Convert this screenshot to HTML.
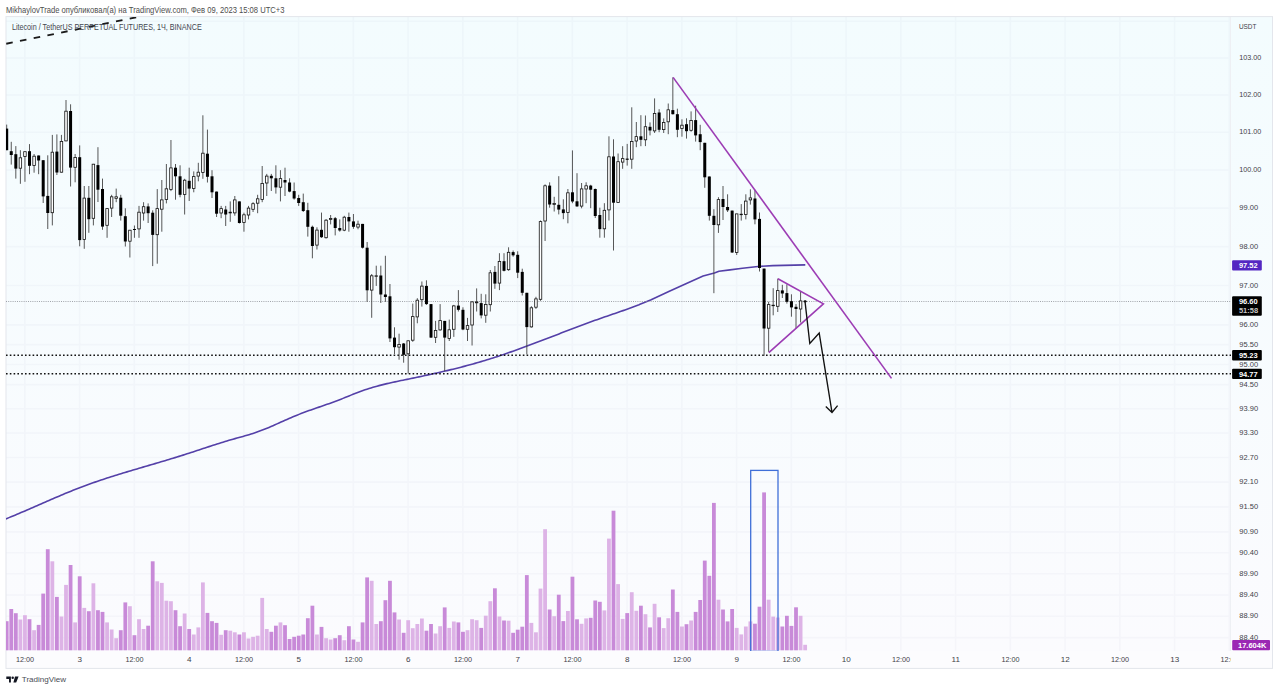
<!DOCTYPE html><html><head><meta charset="utf-8"><style>
html,body{margin:0;padding:0;background:#fff;width:1280px;height:691px;overflow:hidden}
svg{display:block}
text{font-family:"Liberation Sans", sans-serif}
</style></head><body>
<svg width="1280" height="691" viewBox="0 0 1280 691">
<defs>
<linearGradient id="bg" x1="0" y1="0" x2="0" y2="1">
<stop offset="0" stop-color="#f3fcfe"/><stop offset="1" stop-color="#fbfbfe"/>
</linearGradient>
<clipPath id="pane"><rect x="6" y="17" width="1225" height="634"/></clipPath>
</defs>
<rect x="0" y="0" width="1280" height="691" fill="#fff"/>

<text x="6" y="12.6" font-size="8.8" textLength="278.5" lengthAdjust="spacingAndGlyphs" fill="#4d4d4d">MikhaylovTrade опубликовал(а) на TradingView.com, Фев 09, 2023 15:08 UTC+3</text>
<rect x="6" y="17" width="1267" height="634" fill="url(#bg)"/>
<rect x="6" y="651" width="1267" height="17.399999999999977" fill="#fcfcfe"/>
<path d="M6 21.3H1231 M6 57.94H1231 M6 94.94H1231 M6 132.3H1231 M6 170.04H1231 M6 208.15H1231 M6 246.66H1231 M6 285.55H1231 M6 324.85H1231 M6 344.66H1231 M6 364.56H1231 M6 384.58H1231 M6 408.73H1231 M6 433.04H1231 M6 457.51H1231 M6 482.14H1231 M6 506.92H1231 M6 531.87H1231 M6 552.79H1231 M6 573.82H1231 M6 594.98H1231 M6 616.25H1231 M6 637.63H1231 M24.85 17V651 M79.6 17V651 M134.35 17V651 M189.1 17V651 M243.85 17V651 M298.6 17V651 M353.35 17V651 M408.1 17V651 M462.85 17V651 M517.6 17V651 M572.35 17V651 M627.1 17V651 M681.85 17V651 M736.6 17V651 M791.35 17V651 M846.1 17V651 M900.85 17V651 M955.6 17V651 M1010.35 17V651 M1065.1 17V651 M1119.85 17V651 M1174.6 17V651 M1229.35 17V651" stroke="rgba(110,120,160,0.042)" stroke-width="1.6" fill="none"/>
<path d="M1230.5 17V651" stroke="#eef0f4" stroke-width="1"/>
<rect x="6" y="16.6" width="1266.5" height="651.8" fill="none" stroke="#e3e6ec" stroke-width="1"/>
<g clip-path="url(#pane)">
<rect x="4.80" y="621.2" width="3.8" height="29.1" fill="#c88ad8"/><rect x="9.36" y="609.0" width="3.8" height="41.3" fill="#c88ad8"/><rect x="13.92" y="613.2" width="3.8" height="37.1" fill="#c88ad8"/><rect x="18.49" y="619.5" width="3.8" height="30.8" fill="#ddb3e6"/><rect x="23.05" y="615.2" width="3.8" height="35.1" fill="#ddb3e6"/><rect x="27.61" y="619.2" width="3.8" height="31.1" fill="#c88ad8"/><rect x="32.18" y="630.2" width="3.8" height="20.1" fill="#ddb3e6"/><rect x="36.74" y="624.9" width="3.8" height="25.4" fill="#c88ad8"/><rect x="41.30" y="593.6" width="3.8" height="56.7" fill="#c88ad8"/><rect x="45.86" y="549.2" width="3.8" height="101.1" fill="#c88ad8"/><rect x="50.43" y="561.3" width="3.8" height="89.0" fill="#ddb3e6"/><rect x="54.99" y="596.9" width="3.8" height="53.4" fill="#c88ad8"/><rect x="59.55" y="616.5" width="3.8" height="33.8" fill="#ddb3e6"/><rect x="64.11" y="584.9" width="3.8" height="65.4" fill="#ddb3e6"/><rect x="68.67" y="565.0" width="3.8" height="85.3" fill="#c88ad8"/><rect x="73.24" y="622.4" width="3.8" height="27.9" fill="#ddb3e6"/><rect x="77.80" y="576.3" width="3.8" height="74.0" fill="#c88ad8"/><rect x="82.36" y="607.9" width="3.8" height="42.4" fill="#ddb3e6"/><rect x="86.92" y="611.2" width="3.8" height="39.1" fill="#c88ad8"/><rect x="91.49" y="583.3" width="3.8" height="67.0" fill="#ddb3e6"/><rect x="96.05" y="610.2" width="3.8" height="40.1" fill="#c88ad8"/><rect x="100.61" y="611.9" width="3.8" height="38.4" fill="#c88ad8"/><rect x="105.17" y="622.4" width="3.8" height="27.9" fill="#ddb3e6"/><rect x="109.74" y="629.5" width="3.8" height="20.8" fill="#ddb3e6"/><rect x="114.30" y="638.2" width="3.8" height="12.1" fill="#ddb3e6"/><rect x="118.86" y="630.2" width="3.8" height="20.1" fill="#c88ad8"/><rect x="123.42" y="602.4" width="3.8" height="47.9" fill="#c88ad8"/><rect x="127.99" y="606.2" width="3.8" height="44.1" fill="#ddb3e6"/><rect x="132.55" y="635.2" width="3.8" height="15.1" fill="#c88ad8"/><rect x="137.11" y="619.2" width="3.8" height="31.1" fill="#ddb3e6"/><rect x="141.67" y="629.0" width="3.8" height="21.3" fill="#ddb3e6"/><rect x="146.24" y="625.7" width="3.8" height="24.6" fill="#c88ad8"/><rect x="150.80" y="561.3" width="3.8" height="89.0" fill="#c88ad8"/><rect x="155.36" y="581.3" width="3.8" height="69.0" fill="#ddb3e6"/><rect x="159.92" y="582.9" width="3.8" height="67.4" fill="#ddb3e6"/><rect x="164.49" y="600.7" width="3.8" height="49.6" fill="#ddb3e6"/><rect x="169.05" y="601.2" width="3.8" height="49.1" fill="#ddb3e6"/><rect x="173.61" y="610.2" width="3.8" height="40.1" fill="#c88ad8"/><rect x="178.17" y="626.2" width="3.8" height="24.1" fill="#c88ad8"/><rect x="182.74" y="613.5" width="3.8" height="36.8" fill="#ddb3e6"/><rect x="187.30" y="629.0" width="3.8" height="21.3" fill="#c88ad8"/><rect x="191.86" y="634.5" width="3.8" height="15.8" fill="#ddb3e6"/><rect x="196.42" y="627.4" width="3.8" height="22.9" fill="#ddb3e6"/><rect x="200.99" y="582.4" width="3.8" height="67.9" fill="#ddb3e6"/><rect x="205.55" y="612.9" width="3.8" height="37.4" fill="#c88ad8"/><rect x="210.11" y="621.2" width="3.8" height="29.1" fill="#c88ad8"/><rect x="214.67" y="622.9" width="3.8" height="27.4" fill="#c88ad8"/><rect x="219.24" y="634.8" width="3.8" height="15.5" fill="#ddb3e6"/><rect x="223.80" y="630.2" width="3.8" height="20.1" fill="#c88ad8"/><rect x="228.36" y="630.7" width="3.8" height="19.6" fill="#ddb3e6"/><rect x="232.92" y="632.3" width="3.8" height="18.0" fill="#ddb3e6"/><rect x="237.49" y="634.5" width="3.8" height="15.8" fill="#c88ad8"/><rect x="242.05" y="632.3" width="3.8" height="18.0" fill="#ddb3e6"/><rect x="246.61" y="638.5" width="3.8" height="11.8" fill="#ddb3e6"/><rect x="251.17" y="636.8" width="3.8" height="13.5" fill="#ddb3e6"/><rect x="255.74" y="635.7" width="3.8" height="14.6" fill="#ddb3e6"/><rect x="260.30" y="597.9" width="3.8" height="52.4" fill="#ddb3e6"/><rect x="264.86" y="629.0" width="3.8" height="21.3" fill="#ddb3e6"/><rect x="269.43" y="631.8" width="3.8" height="18.5" fill="#c88ad8"/><rect x="273.99" y="625.7" width="3.8" height="24.6" fill="#c88ad8"/><rect x="278.55" y="622.4" width="3.8" height="27.9" fill="#ddb3e6"/><rect x="283.11" y="625.2" width="3.8" height="25.1" fill="#c88ad8"/><rect x="287.68" y="639.0" width="3.8" height="11.3" fill="#c88ad8"/><rect x="292.24" y="636.8" width="3.8" height="13.5" fill="#c88ad8"/><rect x="296.80" y="635.7" width="3.8" height="14.6" fill="#c88ad8"/><rect x="301.36" y="634.5" width="3.8" height="15.8" fill="#c88ad8"/><rect x="305.93" y="618.2" width="3.8" height="32.1" fill="#c88ad8"/><rect x="310.49" y="605.7" width="3.8" height="44.6" fill="#c88ad8"/><rect x="315.05" y="634.5" width="3.8" height="15.8" fill="#ddb3e6"/><rect x="319.61" y="626.9" width="3.8" height="23.4" fill="#c88ad8"/><rect x="324.18" y="638.2" width="3.8" height="12.1" fill="#ddb3e6"/><rect x="328.74" y="639.5" width="3.8" height="10.8" fill="#ddb3e6"/><rect x="333.30" y="638.2" width="3.8" height="12.1" fill="#c88ad8"/><rect x="337.86" y="635.2" width="3.8" height="15.1" fill="#c88ad8"/><rect x="342.43" y="640.2" width="3.8" height="10.1" fill="#ddb3e6"/><rect x="346.99" y="626.2" width="3.8" height="24.1" fill="#c88ad8"/><rect x="351.55" y="639.5" width="3.8" height="10.8" fill="#c88ad8"/><rect x="356.11" y="641.8" width="3.8" height="8.5" fill="#ddb3e6"/><rect x="360.68" y="622.4" width="3.8" height="27.9" fill="#c88ad8"/><rect x="365.24" y="577.4" width="3.8" height="72.9" fill="#c88ad8"/><rect x="369.80" y="580.8" width="3.8" height="69.5" fill="#ddb3e6"/><rect x="374.36" y="624.0" width="3.8" height="26.3" fill="#ddb3e6"/><rect x="378.93" y="621.2" width="3.8" height="29.1" fill="#c88ad8"/><rect x="383.49" y="600.2" width="3.8" height="50.1" fill="#c88ad8"/><rect x="388.05" y="580.8" width="3.8" height="69.5" fill="#c88ad8"/><rect x="392.61" y="612.4" width="3.8" height="37.9" fill="#c88ad8"/><rect x="397.18" y="619.5" width="3.8" height="30.8" fill="#ddb3e6"/><rect x="401.74" y="632.8" width="3.8" height="17.5" fill="#c88ad8"/><rect x="406.30" y="620.2" width="3.8" height="30.1" fill="#ddb3e6"/><rect x="410.86" y="628.2" width="3.8" height="22.1" fill="#ddb3e6"/><rect x="415.43" y="624.0" width="3.8" height="26.3" fill="#ddb3e6"/><rect x="419.99" y="618.5" width="3.8" height="31.8" fill="#ddb3e6"/><rect x="424.55" y="630.7" width="3.8" height="19.6" fill="#c88ad8"/><rect x="429.11" y="624.0" width="3.8" height="26.3" fill="#c88ad8"/><rect x="433.68" y="633.5" width="3.8" height="16.8" fill="#ddb3e6"/><rect x="438.24" y="626.2" width="3.8" height="24.1" fill="#ddb3e6"/><rect x="442.80" y="607.4" width="3.8" height="42.9" fill="#c88ad8"/><rect x="447.36" y="627.9" width="3.8" height="22.4" fill="#ddb3e6"/><rect x="451.93" y="621.5" width="3.8" height="28.8" fill="#ddb3e6"/><rect x="456.49" y="622.4" width="3.8" height="27.9" fill="#c88ad8"/><rect x="461.05" y="631.8" width="3.8" height="18.5" fill="#c88ad8"/><rect x="465.61" y="630.2" width="3.8" height="20.1" fill="#ddb3e6"/><rect x="470.18" y="619.2" width="3.8" height="31.1" fill="#ddb3e6"/><rect x="474.74" y="620.2" width="3.8" height="30.1" fill="#ddb3e6"/><rect x="479.30" y="627.9" width="3.8" height="22.4" fill="#c88ad8"/><rect x="483.86" y="615.7" width="3.8" height="34.6" fill="#ddb3e6"/><rect x="488.43" y="601.2" width="3.8" height="49.1" fill="#ddb3e6"/><rect x="492.99" y="588.3" width="3.8" height="62.0" fill="#c88ad8"/><rect x="497.55" y="616.5" width="3.8" height="33.8" fill="#ddb3e6"/><rect x="502.11" y="620.5" width="3.8" height="29.8" fill="#c88ad8"/><rect x="506.68" y="620.7" width="3.8" height="29.6" fill="#ddb3e6"/><rect x="511.24" y="632.8" width="3.8" height="17.5" fill="#c88ad8"/><rect x="515.80" y="629.7" width="3.8" height="20.6" fill="#c88ad8"/><rect x="520.36" y="626.7" width="3.8" height="23.6" fill="#c88ad8"/><rect x="524.93" y="575.1" width="3.8" height="75.2" fill="#c88ad8"/><rect x="529.49" y="622.9" width="3.8" height="27.4" fill="#ddb3e6"/><rect x="534.05" y="632.3" width="3.8" height="18.0" fill="#ddb3e6"/><rect x="538.61" y="588.6" width="3.8" height="61.7" fill="#ddb3e6"/><rect x="543.18" y="529.2" width="3.8" height="121.1" fill="#ddb3e6"/><rect x="547.74" y="609.5" width="3.8" height="40.8" fill="#c88ad8"/><rect x="552.30" y="616.2" width="3.8" height="34.1" fill="#ddb3e6"/><rect x="556.86" y="594.7" width="3.8" height="55.6" fill="#c88ad8"/><rect x="561.43" y="621.1" width="3.8" height="29.2" fill="#c88ad8"/><rect x="565.99" y="611.0" width="3.8" height="39.3" fill="#ddb3e6"/><rect x="570.55" y="576.7" width="3.8" height="73.6" fill="#c88ad8"/><rect x="575.11" y="619.3" width="3.8" height="31.0" fill="#c88ad8"/><rect x="579.68" y="623.8" width="3.8" height="26.5" fill="#ddb3e6"/><rect x="584.24" y="618.4" width="3.8" height="31.9" fill="#ddb3e6"/><rect x="588.80" y="617.8" width="3.8" height="32.5" fill="#c88ad8"/><rect x="593.36" y="600.5" width="3.8" height="49.8" fill="#c88ad8"/><rect x="597.93" y="601.8" width="3.8" height="48.5" fill="#c88ad8"/><rect x="602.49" y="610.4" width="3.8" height="39.9" fill="#ddb3e6"/><rect x="607.05" y="538.6" width="3.8" height="111.7" fill="#ddb3e6"/><rect x="611.61" y="510.7" width="3.8" height="139.6" fill="#c88ad8"/><rect x="616.18" y="584.1" width="3.8" height="66.2" fill="#ddb3e6"/><rect x="620.74" y="618.9" width="3.8" height="31.4" fill="#ddb3e6"/><rect x="625.30" y="613.1" width="3.8" height="37.2" fill="#c88ad8"/><rect x="629.86" y="592.2" width="3.8" height="58.1" fill="#ddb3e6"/><rect x="634.43" y="610.8" width="3.8" height="39.5" fill="#ddb3e6"/><rect x="638.99" y="605.7" width="3.8" height="44.6" fill="#c88ad8"/><rect x="643.55" y="614.2" width="3.8" height="36.1" fill="#ddb3e6"/><rect x="648.11" y="627.4" width="3.8" height="22.9" fill="#c88ad8"/><rect x="652.68" y="603.8" width="3.8" height="46.5" fill="#ddb3e6"/><rect x="657.24" y="617.3" width="3.8" height="33.0" fill="#c88ad8"/><rect x="661.80" y="628.1" width="3.8" height="22.2" fill="#ddb3e6"/><rect x="666.36" y="618.2" width="3.8" height="32.1" fill="#ddb3e6"/><rect x="670.93" y="589.5" width="3.8" height="60.8" fill="#c88ad8"/><rect x="675.49" y="611.9" width="3.8" height="38.4" fill="#c88ad8"/><rect x="680.05" y="626.5" width="3.8" height="23.8" fill="#ddb3e6"/><rect x="684.61" y="624.2" width="3.8" height="26.1" fill="#c88ad8"/><rect x="689.18" y="620.5" width="3.8" height="29.8" fill="#ddb3e6"/><rect x="693.74" y="611.9" width="3.8" height="38.4" fill="#c88ad8"/><rect x="698.30" y="600.0" width="3.8" height="50.3" fill="#c88ad8"/><rect x="702.86" y="560.6" width="3.8" height="89.7" fill="#c88ad8"/><rect x="707.43" y="575.8" width="3.8" height="74.5" fill="#c88ad8"/><rect x="711.99" y="502.9" width="3.8" height="147.4" fill="#c88ad8"/><rect x="716.55" y="599.7" width="3.8" height="50.6" fill="#ddb3e6"/><rect x="721.11" y="609.5" width="3.8" height="40.8" fill="#c88ad8"/><rect x="725.68" y="621.4" width="3.8" height="28.9" fill="#c88ad8"/><rect x="730.24" y="609.0" width="3.8" height="41.3" fill="#c88ad8"/><rect x="734.80" y="627.9" width="3.8" height="22.4" fill="#ddb3e6"/><rect x="739.36" y="634.4" width="3.8" height="15.9" fill="#ddb3e6"/><rect x="743.93" y="626.5" width="3.8" height="23.8" fill="#ddb3e6"/><rect x="748.49" y="621.4" width="3.8" height="28.9" fill="#ddb3e6"/><rect x="753.05" y="623.7" width="3.8" height="26.6" fill="#c88ad8"/><rect x="757.61" y="606.7" width="3.8" height="43.6" fill="#c88ad8"/><rect x="762.18" y="492.4" width="3.8" height="157.9" fill="#c88ad8"/><rect x="766.74" y="599.7" width="3.8" height="50.6" fill="#ddb3e6"/><rect x="771.30" y="616.6" width="3.8" height="33.7" fill="#ddb3e6"/><rect x="775.86" y="617.5" width="3.8" height="32.8" fill="#ddb3e6"/><rect x="780.43" y="626.5" width="3.8" height="23.8" fill="#c88ad8"/><rect x="784.99" y="615.8" width="3.8" height="34.5" fill="#c88ad8"/><rect x="789.55" y="625.9" width="3.8" height="24.4" fill="#c88ad8"/><rect x="794.11" y="607.3" width="3.8" height="43.0" fill="#c88ad8"/><rect x="798.68" y="615.8" width="3.8" height="34.5" fill="#ddb3e6"/><rect x="803.24" y="644.8" width="3.8" height="5.5" fill="#ddb3e6"/>
<rect x="750.7" y="470.4" width="27.3" height="181" fill="none" stroke="#3f6fd8" stroke-width="1.3"/>
<path d="M5.0 519.23 L7.0 518.43 L9.0 517.62 L11.0 516.80 L13.0 515.98 L15.0 515.15 L17.0 514.31 L19.0 513.46 L21.0 512.61 L23.0 511.76 L25.0 510.90 L27.0 510.04 L29.0 509.17 L31.0 508.30 L33.0 507.43 L35.0 506.56 L37.0 505.68 L39.0 504.81 L41.0 503.93 L43.0 503.06 L45.0 502.18 L47.0 501.31 L49.0 500.44 L51.0 499.57 L53.0 498.71 L55.0 497.85 L57.0 496.99 L59.0 496.14 L61.0 495.29 L63.0 494.45 L65.0 493.61 L67.0 492.78 L69.0 491.96 L71.0 491.15 L73.0 490.34 L75.0 489.55 L77.0 488.76 L79.0 487.98 L81.0 487.21 L83.0 486.46 L85.0 485.71 L87.0 484.98 L89.0 484.25 L91.0 483.54 L93.0 482.83 L95.0 482.13 L97.0 481.44 L99.0 480.76 L101.0 480.09 L103.0 479.42 L105.0 478.76 L107.0 478.11 L109.0 477.47 L111.0 476.83 L113.0 476.20 L115.0 475.57 L117.0 474.94 L119.0 474.33 L121.0 473.71 L123.0 473.10 L125.0 472.49 L127.0 471.89 L129.0 471.29 L131.0 470.69 L133.0 470.10 L135.0 469.50 L137.0 468.91 L139.0 468.32 L141.0 467.73 L143.0 467.14 L145.0 466.55 L147.0 465.97 L149.0 465.38 L151.0 464.79 L153.0 464.20 L155.0 463.61 L157.0 463.02 L159.0 462.43 L161.0 461.84 L163.0 461.24 L165.0 460.65 L167.0 460.05 L169.0 459.45 L171.0 458.84 L173.0 458.23 L175.0 457.62 L177.0 457.00 L179.0 456.38 L181.0 455.76 L183.0 455.13 L185.0 454.49 L187.0 453.85 L189.0 453.21 L191.0 452.56 L193.0 451.90 L195.0 451.25 L197.0 450.59 L199.0 449.93 L201.0 449.26 L203.0 448.60 L205.0 447.94 L207.0 447.28 L209.0 446.62 L211.0 445.96 L213.0 445.31 L215.0 444.67 L217.0 444.02 L219.0 443.39 L221.0 442.76 L223.0 442.14 L225.0 441.53 L227.0 440.93 L229.0 440.33 L231.0 439.75 L233.0 439.18 L235.0 438.62 L237.0 438.07 L239.0 437.51 L241.0 436.96 L243.0 436.40 L245.0 435.84 L247.0 435.26 L249.0 434.67 L251.0 434.05 L253.0 433.42 L255.0 432.76 L257.0 432.07 L259.0 431.36 L261.0 430.62 L263.0 429.86 L265.0 429.07 L267.0 428.26 L269.0 427.42 L271.0 426.56 L273.0 425.68 L275.0 424.79 L277.0 423.89 L279.0 422.99 L281.0 422.08 L283.0 421.18 L285.0 420.28 L287.0 419.40 L289.0 418.52 L291.0 417.66 L293.0 416.82 L295.0 415.98 L297.0 415.17 L299.0 414.37 L301.0 413.59 L303.0 412.83 L305.0 412.08 L307.0 411.35 L309.0 410.62 L311.0 409.91 L313.0 409.20 L315.0 408.50 L317.0 407.81 L319.0 407.12 L321.0 406.42 L323.0 405.73 L325.0 405.04 L327.0 404.34 L329.0 403.63 L331.0 402.92 L333.0 402.19 L335.0 401.46 L337.0 400.71 L339.0 399.95 L341.0 399.17 L343.0 398.37 L345.0 397.57 L347.0 396.75 L349.0 395.94 L351.0 395.12 L353.0 394.31 L355.0 393.51 L357.0 392.73 L359.0 391.96 L361.0 391.22 L363.0 390.50 L365.0 389.81 L367.0 389.15 L369.0 388.51 L371.0 387.89 L373.0 387.30 L375.0 386.72 L377.0 386.17 L379.0 385.63 L381.0 385.11 L383.0 384.61 L385.0 384.12 L387.0 383.65 L389.0 383.18 L391.0 382.73 L393.0 382.29 L395.0 381.85 L397.0 381.42 L399.0 381.00 L401.0 380.59 L403.0 380.17 L405.0 379.76 L407.0 379.35 L409.0 378.94 L411.0 378.52 L413.0 378.11 L415.0 377.69 L417.0 377.27 L419.0 376.85 L421.0 376.43 L423.0 376.00 L425.0 375.57 L427.0 375.14 L429.0 374.71 L431.0 374.27 L433.0 373.83 L435.0 373.38 L437.0 372.93 L439.0 372.48 L441.0 372.02 L443.0 371.56 L445.0 371.09 L447.0 370.62 L449.0 370.14 L451.0 369.65 L453.0 369.17 L455.0 368.67 L457.0 368.17 L459.0 367.67 L461.0 367.15 L463.0 366.63 L465.0 366.11 L467.0 365.58 L469.0 365.04 L471.0 364.49 L473.0 363.94 L475.0 363.37 L477.0 362.80 L479.0 362.23 L481.0 361.64 L483.0 361.05 L485.0 360.44 L487.0 359.83 L489.0 359.21 L491.0 358.58 L493.0 357.95 L495.0 357.30 L497.0 356.65 L499.0 355.98 L501.0 355.32 L503.0 354.64 L505.0 353.96 L507.0 353.27 L509.0 352.57 L511.0 351.87 L513.0 351.16 L515.0 350.45 L517.0 349.73 L519.0 349.01 L521.0 348.28 L523.0 347.55 L525.0 346.81 L527.0 346.07 L529.0 345.33 L531.0 344.58 L533.0 343.83 L535.0 343.07 L537.0 342.32 L539.0 341.56 L541.0 340.80 L543.0 340.03 L545.0 339.27 L547.0 338.50 L549.0 337.73 L551.0 336.97 L553.0 336.20 L555.0 335.43 L557.0 334.66 L559.0 333.89 L561.0 333.12 L563.0 332.35 L565.0 331.59 L567.0 330.82 L569.0 330.06 L571.0 329.29 L573.0 328.53 L575.0 327.77 L577.0 327.02 L579.0 326.27 L581.0 325.52 L583.0 324.77 L585.0 324.03 L587.0 323.29 L589.0 322.55 L591.0 321.82 L593.0 321.10 L595.0 320.37 L597.0 319.66 L599.0 318.95 L601.0 318.24 L603.0 317.54 L605.0 316.85 L607.0 316.16 L609.0 315.47 L611.0 314.78 L613.0 314.09 L615.0 313.40 L617.0 312.71 L619.0 312.02 L621.0 311.32 L623.0 310.62 L625.0 309.91 L627.0 309.19 L629.0 308.47 L631.0 307.74 L633.0 307.00 L635.0 306.25 L637.0 305.48 L639.0 304.71 L640.0 304.20 L650.6 300.00 L668.8 291.60 L685.9 283.80 L703.1 276.10 L714.4 272.90 L719.0 271.20 L730.0 269.90 L742.5 268.30 L758.0 266.50 L772.8 265.60 L805.3 264.90" fill="none" stroke="#5440a8" stroke-width="1.6" stroke-linejoin="round"/>
<path d="M6 301.5H1231" stroke="#8a8d94" stroke-width="0.8" stroke-dasharray="1 1.2"/>
<path d="M6 355.2H1231 M6 373.7H1231" stroke="#111" stroke-width="1.5" stroke-dasharray="1.6 2.2"/>
<path d="M6.70 124.6V150.2 M11.26 141.8V164.6 M15.82 146.1V178.6 M20.39 150.2V183.8 M24.95 151.4V181.8 M29.51 144.1V174.2 M34.08 154.0V172.7 M38.64 155.5V174.2 M43.20 160.2V203.0 M47.76 155.3V229.0 M52.33 134.9V225.4 M56.89 134.4V175.0 M61.45 134.9V172.5 M66.01 100.0V141.2 M70.58 104.3V186.5 M75.14 154.0V182.3 M79.70 145.4V246.3 M84.26 186.0V248.8 M88.83 186.0V232.8 M93.39 163.9V225.4 M97.95 147.2V202.0 M102.51 178.6V229.8 M107.08 208.3V237.8 M111.64 194.8V217.0 M116.20 188.6V202.2 M120.76 194.8V220.6 M125.33 208.3V246.5 M129.89 230.0V257.5 M134.45 225.5V237.8 M139.01 205.9V237.8 M143.57 202.2V220.6 M148.14 203.4V223.0 M152.70 210.3V266.1 M157.26 189.1V263.7 M161.82 180.0V231.7 M166.39 164.0V203.4 M170.95 140.0V191.1 M175.51 164.0V199.7 M180.07 165.3V197.3 M184.64 178.8V214.5 M189.20 167.7V201.0 M193.76 171.4V192.3 M198.32 162.8V181.3 M202.89 115.3V178.8 M207.45 129.6V182.5 M212.01 170.2V198.0 M216.57 191.6V217.0 M221.14 205.9V218.2 M225.70 205.9V226.0 M230.26 201.4V221.8 M234.82 196.0V215.7 M239.39 201.4V223.5 M243.95 212.7V231.7 M248.51 205.9V219.4 M253.07 202.2V212.0 M257.64 194.8V213.2 M262.20 166.0V202.2 M266.76 173.9V196.0 M271.32 173.9V191.0 M275.89 165.3V193.6 M280.45 170.2V201.4 M285.01 167.7V196.0 M289.57 178.3V192.3 M294.14 182.5V199.7 M298.70 194.8V205.9 M303.26 193.6V212.0 M307.82 202.8V236.6 M312.39 225.6V258.3 M316.95 227.3V249.5 M321.51 212.6V237.9 M326.07 219.0V238.6 M330.64 215.0V224.4 M335.20 217.0V235.4 M339.76 219.4V231.7 M344.32 215.8V231.2 M348.89 212.6V231.7 M353.45 214.0V228.8 M358.01 220.7V229.3 M362.57 223.9V248.5 M367.14 242.0V301.9 M371.70 274.0V317.8 M376.26 265.7V285.9 M380.82 265.7V303.0 M385.39 255.8V301.9 M389.95 284.0V342.0 M394.51 327.3V354.0 M399.07 333.7V359.7 M403.64 343.0V362.7 M408.20 340.5V373.7 M412.76 303.6V341.8 M417.32 298.2V323.3 M421.89 281.5V306.6 M426.45 280.3V304.9 M431.01 304.1V338.0 M435.57 320.9V343.0 M440.14 304.1V330.7 M444.70 320.9V371.3 M449.26 319.6V341.0 M453.82 304.9V336.9 M458.39 290.1V311.5 M462.95 307.3V330.2 M467.51 317.9V341.0 M472.07 301.2V345.5 M476.64 288.4V311.5 M481.20 293.8V318.4 M485.76 294.3V322.8 M490.32 270.0V311.5 M494.89 266.0V288.8 M499.45 253.2V290.1 M504.01 253.2V271.4 M508.57 247.3V270.8 M513.14 250.5V256.7 M517.70 251.3V278.1 M522.26 268.7V295.5 M526.83 292.8V354.4 M531.39 306.2V327.6 M535.95 296.8V308.9 M540.51 220.5V300.8 M545.08 184.4V241.0 M549.64 182.3V207.7 M554.20 196.8V211.5 M558.76 176.2V214.4 M563.33 199.3V219.2 M567.89 189.0V223.3 M572.45 150.4V203.2 M577.01 173.2V206.9 M581.58 183.0V208.3 M586.14 182.3V203.2 M590.70 184.8V208.2 M595.26 188.5V218.0 M599.83 207.7V237.7 M604.39 203.2V237.7 M608.95 136.3V220.5 M613.51 139.3V250.5 M618.08 153.5V202.7 M622.64 146.2V168.8 M627.20 143.9V165.6 M631.76 107.3V168.8 M636.33 122.0V147.2 M640.89 115.2V146.2 M645.45 115.5V146.1 M650.01 122.4V135.4 M654.58 98.4V133.0 M659.14 109.2V132.2 M663.70 118.4V133.0 M668.26 103.5V134.2 M672.83 77.4V114.5 M677.39 108.7V137.2 M681.95 119.3V136.7 M686.51 118.3V138.6 M691.08 111.4V131.7 M695.64 105.7V141.6 M700.20 124.8V150.2 M704.76 142.8V187.8 M709.33 176.5V220.6 M713.89 209.2V293.2 M718.45 197.2V232.9 M723.01 186.0V220.0 M727.58 194.3V212.0 M732.14 210.6V253.0 M736.70 213.7V255.0 M741.26 204.1V220.6 M745.83 194.3V219.4 M750.39 189.3V204.6 M754.95 189.8V224.3 M759.51 212.5V271.5 M764.08 268.6V355.9 M768.64 301.8V351.9 M773.20 288.2V315.3 M777.76 278.6V312.0 M782.33 284.8V298.0 M786.89 284.3V303.6 M791.45 294.3V316.7 M796.01 304.1V328.5 M800.58 291.0V322.5 M805.14 300.0V303.0" stroke="#444" stroke-width="0.9" fill="none"/>
<rect x="5.20" y="128.6" width="3" height="21.6" fill="#000"/><rect x="9.76" y="151.2" width="3" height="3.8" fill="#000"/><rect x="14.32" y="154.2" width="3" height="14.4" fill="#000"/><rect x="19.14" y="157.8" width="2.5" height="10.4" fill="#fff" stroke="#111" stroke-width="0.8"/><rect x="23.70" y="151.7" width="2.5" height="4.8" fill="#fff" stroke="#111" stroke-width="0.8"/><rect x="28.01" y="151.2" width="3" height="14.6" fill="#000"/><rect x="32.83" y="156.2" width="2.5" height="9.3" fill="#fff" stroke="#111" stroke-width="0.8"/><rect x="37.14" y="155.5" width="3" height="5.0" fill="#000"/><rect x="41.70" y="160.2" width="3" height="36.2" fill="#000"/><rect x="46.26" y="195.9" width="3" height="17.1" fill="#000"/><rect x="51.08" y="152.2" width="2.5" height="60.5" fill="#fff" stroke="#111" stroke-width="0.8"/><rect x="55.39" y="151.6" width="3" height="20.9" fill="#000"/><rect x="60.20" y="141.4" width="2.5" height="30.8" fill="#fff" stroke="#111" stroke-width="0.8"/><rect x="64.76" y="111.2" width="2.5" height="29.7" fill="#fff" stroke="#111" stroke-width="0.8"/><rect x="69.08" y="111.0" width="3" height="56.6" fill="#000"/><rect x="73.89" y="157.4" width="2.5" height="9.9" fill="#fff" stroke="#111" stroke-width="0.8"/><rect x="78.20" y="157.2" width="3" height="82.9" fill="#000"/><rect x="83.01" y="198.1" width="2.5" height="41.3" fill="#fff" stroke="#111" stroke-width="0.8"/><rect x="87.33" y="197.8" width="3" height="21.4" fill="#000"/><rect x="92.14" y="164.2" width="2.5" height="54.1" fill="#fff" stroke="#111" stroke-width="0.8"/><rect x="96.45" y="165.1" width="3" height="24.6" fill="#000"/><rect x="101.01" y="189.0" width="3" height="37.6" fill="#000"/><rect x="105.83" y="208.6" width="2.5" height="16.7" fill="#fff" stroke="#111" stroke-width="0.8"/><rect x="110.39" y="196.8" width="2.5" height="11.3" fill="#fff" stroke="#111" stroke-width="0.8"/><rect x="114.95" y="196.8" width="2.5" height="1.5" fill="#fff" stroke="#111" stroke-width="0.8"/><rect x="119.26" y="197.7" width="3" height="18.0" fill="#000"/><rect x="123.83" y="216.2" width="3" height="25.3" fill="#000"/><rect x="128.64" y="230.2" width="2.5" height="11.0" fill="#fff" stroke="#111" stroke-width="0.8"/><rect x="132.95" y="229.0" width="3" height="1.0" fill="#000"/><rect x="137.76" y="212.2" width="2.5" height="16.7" fill="#fff" stroke="#111" stroke-width="0.8"/><rect x="142.32" y="206.7" width="2.5" height="6.3" fill="#fff" stroke="#111" stroke-width="0.8"/><rect x="146.64" y="206.4" width="3" height="6.8" fill="#000"/><rect x="151.20" y="212.7" width="3" height="22.2" fill="#000"/><rect x="156.01" y="208.6" width="2.5" height="26.1" fill="#fff" stroke="#111" stroke-width="0.8"/><rect x="160.57" y="199.9" width="2.5" height="9.3" fill="#fff" stroke="#111" stroke-width="0.8"/><rect x="165.14" y="188.8" width="2.5" height="10.6" fill="#fff" stroke="#111" stroke-width="0.8"/><rect x="169.70" y="167.9" width="2.5" height="21.7" fill="#fff" stroke="#111" stroke-width="0.8"/><rect x="174.01" y="167.7" width="3" height="8.6" fill="#000"/><rect x="178.57" y="176.3" width="3" height="18.5" fill="#000"/><rect x="183.39" y="180.2" width="2.5" height="14.3" fill="#fff" stroke="#111" stroke-width="0.8"/><rect x="187.70" y="180.8" width="3" height="7.8" fill="#000"/><rect x="192.51" y="176.6" width="2.5" height="11.8" fill="#fff" stroke="#111" stroke-width="0.8"/><rect x="197.07" y="172.2" width="2.5" height="3.9" fill="#fff" stroke="#111" stroke-width="0.8"/><rect x="201.64" y="153.2" width="2.5" height="19.2" fill="#fff" stroke="#111" stroke-width="0.8"/><rect x="205.95" y="153.7" width="3" height="23.1" fill="#000"/><rect x="210.51" y="176.3" width="3" height="16.0" fill="#000"/><rect x="215.07" y="191.6" width="3" height="22.1" fill="#000"/><rect x="219.89" y="208.6" width="2.5" height="4.4" fill="#fff" stroke="#111" stroke-width="0.8"/><rect x="224.20" y="209.5" width="3" height="5.0" fill="#000"/><rect x="229.01" y="212.2" width="2.5" height="0.7" fill="#fff" stroke="#111" stroke-width="0.8"/><rect x="233.57" y="199.9" width="2.5" height="13.0" fill="#fff" stroke="#111" stroke-width="0.8"/><rect x="237.89" y="201.4" width="3" height="21.6" fill="#000"/><rect x="242.70" y="214.8" width="2.5" height="7.6" fill="#fff" stroke="#111" stroke-width="0.8"/><rect x="247.26" y="208.1" width="2.5" height="6.9" fill="#fff" stroke="#111" stroke-width="0.8"/><rect x="251.82" y="203.7" width="2.5" height="5.6" fill="#fff" stroke="#111" stroke-width="0.8"/><rect x="256.39" y="198.8" width="2.5" height="4.4" fill="#fff" stroke="#111" stroke-width="0.8"/><rect x="260.95" y="183.4" width="2.5" height="16.0" fill="#fff" stroke="#111" stroke-width="0.8"/><rect x="265.51" y="176.1" width="2.5" height="6.9" fill="#fff" stroke="#111" stroke-width="0.8"/><rect x="269.82" y="175.8" width="3" height="2.5" fill="#000"/><rect x="274.39" y="178.3" width="3" height="9.1" fill="#000"/><rect x="279.20" y="178.6" width="2.5" height="8.6" fill="#fff" stroke="#111" stroke-width="0.8"/><rect x="283.51" y="180.0" width="3" height="2.5" fill="#000"/><rect x="288.07" y="182.5" width="3" height="9.1" fill="#000"/><rect x="292.64" y="191.1" width="3" height="7.4" fill="#000"/><rect x="297.20" y="198.0" width="3" height="5.0" fill="#000"/><rect x="301.76" y="202.2" width="3" height="8.8" fill="#000"/><rect x="306.32" y="210.2" width="3" height="16.6" fill="#000"/><rect x="310.89" y="226.8" width="3" height="19.2" fill="#000"/><rect x="315.70" y="230.1" width="2.5" height="15.0" fill="#fff" stroke="#111" stroke-width="0.8"/><rect x="320.01" y="229.8" width="3" height="7.4" fill="#000"/><rect x="324.82" y="220.2" width="2.5" height="17.5" fill="#fff" stroke="#111" stroke-width="0.8"/><rect x="329.39" y="218.4" width="2.5" height="1.2" fill="#fff" stroke="#111" stroke-width="0.8"/><rect x="333.70" y="218.2" width="3" height="9.8" fill="#000"/><rect x="338.26" y="228.0" width="3" height="2.5" fill="#000"/><rect x="343.07" y="217.2" width="2.5" height="13.0" fill="#fff" stroke="#111" stroke-width="0.8"/><rect x="347.39" y="217.0" width="3" height="4.4" fill="#000"/><rect x="351.95" y="221.4" width="3" height="5.4" fill="#000"/><rect x="356.76" y="224.2" width="2.5" height="2.9" fill="#fff" stroke="#111" stroke-width="0.8"/><rect x="361.07" y="223.9" width="3" height="23.8" fill="#000"/><rect x="365.64" y="247.7" width="3" height="42.6" fill="#000"/><rect x="370.45" y="275.8" width="2.5" height="14.3" fill="#fff" stroke="#111" stroke-width="0.8"/><rect x="375.01" y="275.8" width="2.5" height="0.5" fill="#fff" stroke="#111" stroke-width="0.8"/><rect x="379.32" y="275.5" width="3" height="19.0" fill="#000"/><rect x="383.89" y="294.5" width="3" height="2.5" fill="#000"/><rect x="388.45" y="296.3" width="3" height="42.1" fill="#000"/><rect x="393.01" y="337.6" width="3" height="9.6" fill="#000"/><rect x="397.82" y="344.4" width="2.5" height="2.7" fill="#fff" stroke="#111" stroke-width="0.8"/><rect x="402.14" y="343.5" width="3" height="11.3" fill="#000"/><rect x="406.95" y="340.8" width="2.5" height="13.0" fill="#fff" stroke="#111" stroke-width="0.8"/><rect x="411.51" y="316.6" width="2.5" height="23.6" fill="#fff" stroke="#111" stroke-width="0.8"/><rect x="416.07" y="300.2" width="2.5" height="16.7" fill="#fff" stroke="#111" stroke-width="0.8"/><rect x="420.64" y="286.1" width="2.5" height="13.6" fill="#fff" stroke="#111" stroke-width="0.8"/><rect x="424.95" y="285.9" width="3" height="18.2" fill="#000"/><rect x="429.51" y="304.1" width="3" height="33.5" fill="#000"/><rect x="434.32" y="330.4" width="2.5" height="6.9" fill="#fff" stroke="#111" stroke-width="0.8"/><rect x="438.89" y="320.6" width="2.5" height="9.3" fill="#fff" stroke="#111" stroke-width="0.8"/><rect x="443.20" y="320.9" width="3" height="16.7" fill="#000"/><rect x="448.01" y="329.8" width="2.5" height="8.6" fill="#fff" stroke="#111" stroke-width="0.8"/><rect x="452.57" y="305.9" width="2.5" height="23.4" fill="#fff" stroke="#111" stroke-width="0.8"/><rect x="456.89" y="305.6" width="3" height="4.2" fill="#000"/><rect x="461.45" y="309.8" width="3" height="19.7" fill="#000"/><rect x="466.26" y="325.6" width="2.5" height="3.7" fill="#fff" stroke="#111" stroke-width="0.8"/><rect x="470.82" y="301.9" width="2.5" height="23.1" fill="#fff" stroke="#111" stroke-width="0.8"/><rect x="475.39" y="301.9" width="2.5" height="0.9" fill="#fff" stroke="#111" stroke-width="0.8"/><rect x="479.70" y="303.1" width="3" height="12.3" fill="#000"/><rect x="484.51" y="304.4" width="2.5" height="10.8" fill="#fff" stroke="#111" stroke-width="0.8"/><rect x="489.07" y="272.8" width="2.5" height="31.9" fill="#fff" stroke="#111" stroke-width="0.8"/><rect x="493.39" y="271.9" width="3" height="11.7" fill="#000"/><rect x="498.20" y="261.4" width="2.5" height="21.7" fill="#fff" stroke="#111" stroke-width="0.8"/><rect x="502.51" y="261.2" width="3" height="9.6" fill="#000"/><rect x="507.32" y="252.3" width="2.5" height="17.4" fill="#fff" stroke="#111" stroke-width="0.8"/><rect x="511.64" y="252.1" width="3" height="3.2" fill="#000"/><rect x="516.20" y="254.8" width="3" height="17.9" fill="#000"/><rect x="520.76" y="271.9" width="3" height="20.9" fill="#000"/><rect x="525.33" y="292.8" width="3" height="34.3" fill="#000"/><rect x="530.14" y="307.8" width="2.5" height="19.1" fill="#fff" stroke="#111" stroke-width="0.8"/><rect x="534.70" y="298.9" width="2.5" height="8.3" fill="#fff" stroke="#111" stroke-width="0.8"/><rect x="539.26" y="221.6" width="2.5" height="77.7" fill="#fff" stroke="#111" stroke-width="0.8"/><rect x="543.83" y="185.8" width="2.5" height="35.2" fill="#fff" stroke="#111" stroke-width="0.8"/><rect x="548.14" y="185.6" width="3" height="18.9" fill="#000"/><rect x="552.95" y="203.4" width="2.5" height="1.1" fill="#fff" stroke="#111" stroke-width="0.8"/><rect x="557.26" y="204.8" width="3" height="4.8" fill="#000"/><rect x="561.83" y="209.4" width="3" height="3.7" fill="#000"/><rect x="566.64" y="192.8" width="2.5" height="19.7" fill="#fff" stroke="#111" stroke-width="0.8"/><rect x="570.95" y="192.3" width="3" height="9.2" fill="#000"/><rect x="575.51" y="201.3" width="3" height="5.1" fill="#000"/><rect x="580.33" y="188.9" width="2.5" height="17.2" fill="#fff" stroke="#111" stroke-width="0.8"/><rect x="584.89" y="185.8" width="2.5" height="3.2" fill="#fff" stroke="#111" stroke-width="0.8"/><rect x="589.20" y="185.6" width="3" height="4.1" fill="#000"/><rect x="593.76" y="189.0" width="3" height="27.0" fill="#000"/><rect x="598.33" y="215.0" width="3" height="14.1" fill="#000"/><rect x="603.14" y="210.3" width="2.5" height="18.5" fill="#fff" stroke="#111" stroke-width="0.8"/><rect x="607.70" y="156.8" width="2.5" height="53.1" fill="#fff" stroke="#111" stroke-width="0.8"/><rect x="612.01" y="156.5" width="3" height="46.2" fill="#000"/><rect x="616.83" y="161.7" width="2.5" height="40.8" fill="#fff" stroke="#111" stroke-width="0.8"/><rect x="621.39" y="158.6" width="2.5" height="3.5" fill="#fff" stroke="#111" stroke-width="0.8"/><rect x="625.70" y="158.6" width="3" height="1.2" fill="#000"/><rect x="630.51" y="141.4" width="2.5" height="17.8" fill="#fff" stroke="#111" stroke-width="0.8"/><rect x="635.08" y="136.6" width="2.5" height="4.4" fill="#fff" stroke="#111" stroke-width="0.8"/><rect x="639.39" y="136.3" width="3" height="3.5" fill="#000"/><rect x="644.20" y="126.7" width="2.5" height="13.1" fill="#fff" stroke="#111" stroke-width="0.8"/><rect x="648.51" y="126.8" width="3" height="3.7" fill="#000"/><rect x="653.33" y="113.5" width="2.5" height="17.4" fill="#fff" stroke="#111" stroke-width="0.8"/><rect x="657.64" y="112.5" width="3" height="17.3" fill="#000"/><rect x="662.45" y="122.5" width="2.5" height="7.1" fill="#fff" stroke="#111" stroke-width="0.8"/><rect x="667.01" y="109.8" width="2.5" height="12.0" fill="#fff" stroke="#111" stroke-width="0.8"/><rect x="671.33" y="110.1" width="3" height="4.1" fill="#000"/><rect x="675.89" y="114.2" width="3" height="15.6" fill="#000"/><rect x="680.70" y="125.2" width="2.5" height="3.4" fill="#fff" stroke="#111" stroke-width="0.8"/><rect x="685.01" y="124.2" width="3" height="7.0" fill="#000"/><rect x="689.83" y="120.5" width="2.5" height="9.8" fill="#fff" stroke="#111" stroke-width="0.8"/><rect x="694.14" y="120.1" width="3" height="15.3" fill="#000"/><rect x="698.70" y="134.2" width="3" height="7.9" fill="#000"/><rect x="703.26" y="142.8" width="3" height="34.5" fill="#000"/><rect x="707.83" y="176.5" width="3" height="39.3" fill="#000"/><rect x="712.39" y="215.8" width="3" height="9.2" fill="#000"/><rect x="717.20" y="199.6" width="2.5" height="25.2" fill="#fff" stroke="#111" stroke-width="0.8"/><rect x="721.51" y="199.0" width="3" height="8.0" fill="#000"/><rect x="726.08" y="207.0" width="3" height="3.3" fill="#000"/><rect x="730.64" y="210.6" width="3" height="41.9" fill="#000"/><rect x="735.45" y="213.9" width="2.5" height="38.6" fill="#fff" stroke="#111" stroke-width="0.8"/><rect x="740.01" y="214.2" width="2.5" height="0.5" fill="#fff" stroke="#111" stroke-width="0.8"/><rect x="744.58" y="201.1" width="2.5" height="13.3" fill="#fff" stroke="#111" stroke-width="0.8"/><rect x="749.14" y="197.9" width="2.5" height="2.0" fill="#fff" stroke="#111" stroke-width="0.8"/><rect x="753.45" y="198.5" width="3" height="20.9" fill="#000"/><rect x="758.01" y="218.9" width="3" height="49.1" fill="#000"/><rect x="762.58" y="268.6" width="3" height="59.9" fill="#000"/><rect x="767.39" y="304.6" width="2.5" height="23.6" fill="#fff" stroke="#111" stroke-width="0.8"/><rect x="771.95" y="305.2" width="2.5" height="0.5" fill="#fff" stroke="#111" stroke-width="0.8"/><rect x="776.51" y="290.6" width="2.5" height="15.7" fill="#fff" stroke="#111" stroke-width="0.8"/><rect x="780.83" y="290.4" width="3" height="3.1" fill="#000"/><rect x="785.39" y="293.1" width="3" height="8.7" fill="#000"/><rect x="789.95" y="301.2" width="3" height="6.2" fill="#000"/><rect x="794.51" y="306.8" width="3" height="2.2" fill="#000"/><rect x="799.33" y="300.9" width="2.5" height="8.1" fill="#fff" stroke="#111" stroke-width="0.8"/><rect x="803.89" y="301.2" width="2.5" height="0.5" fill="#fff" stroke="#111" stroke-width="0.8"/>
<path d="M673.1 77.4 L891.5 378.4" stroke="#9c3cb4" stroke-width="1.6" fill="none"/>
<path d="M777.9 278.7 L823.4 303.8 L768.8 352.7" stroke="#9c3cb4" stroke-width="1.6" fill="none" stroke-linejoin="miter"/>
<path d="M804.9 300.4 L809.8 343.5 L819.2 333.1 L832 412.4 M825.8 406.5 L832 412.4 L837.6 405.6" stroke="#111" stroke-width="1.35" fill="none"/>
<path d="M6.25 43.75 L140 16.5" stroke="#1a1a1a" stroke-width="1.8" stroke-dasharray="6.6 7.4" fill="none"/>
</g>
<text x="11.9" y="29.7" font-size="8.6" textLength="189.8" lengthAdjust="spacingAndGlyphs" fill="#43464e">Litecoin / TetherUS PERPETUAL FUTURES, 1Ч, BINANCE</text>
<text x="1238.9" y="28.8" font-size="8" textLength="17.5" lengthAdjust="spacingAndGlyphs" fill="#3f4249">USDT</text>
<text x="1239.3" y="60.0" font-size="8.1" textLength="22.0" lengthAdjust="spacingAndGlyphs" fill="#3f4249">103.00</text>
<text x="1239.3" y="97.0" font-size="8.1" textLength="22.0" lengthAdjust="spacingAndGlyphs" fill="#3f4249">102.00</text>
<text x="1239.3" y="134.4" font-size="8.1" textLength="22.0" lengthAdjust="spacingAndGlyphs" fill="#3f4249">101.00</text>
<text x="1239.3" y="172.1" font-size="8.1" textLength="22.0" lengthAdjust="spacingAndGlyphs" fill="#3f4249">100.00</text>
<text x="1239.3" y="210.3" font-size="8.1" textLength="18.8" lengthAdjust="spacingAndGlyphs" fill="#3f4249">99.00</text>
<text x="1239.3" y="248.8" font-size="8.1" textLength="18.8" lengthAdjust="spacingAndGlyphs" fill="#3f4249">98.00</text>
<text x="1239.3" y="287.7" font-size="8.1" textLength="18.8" lengthAdjust="spacingAndGlyphs" fill="#3f4249">97.00</text>
<text x="1239.3" y="327.0" font-size="8.1" textLength="18.8" lengthAdjust="spacingAndGlyphs" fill="#3f4249">96.00</text>
<text x="1239.3" y="346.8" font-size="8.1" textLength="18.8" lengthAdjust="spacingAndGlyphs" fill="#3f4249">95.50</text>
<text x="1239.3" y="366.7" font-size="8.1" textLength="18.8" lengthAdjust="spacingAndGlyphs" fill="#3f4249">95.00</text>
<text x="1239.3" y="386.7" font-size="8.1" textLength="18.8" lengthAdjust="spacingAndGlyphs" fill="#3f4249">94.50</text>
<text x="1239.3" y="410.8" font-size="8.1" textLength="18.8" lengthAdjust="spacingAndGlyphs" fill="#3f4249">93.90</text>
<text x="1239.3" y="435.1" font-size="8.1" textLength="18.8" lengthAdjust="spacingAndGlyphs" fill="#3f4249">93.30</text>
<text x="1239.3" y="459.6" font-size="8.1" textLength="18.8" lengthAdjust="spacingAndGlyphs" fill="#3f4249">92.70</text>
<text x="1239.3" y="484.2" font-size="8.1" textLength="18.8" lengthAdjust="spacingAndGlyphs" fill="#3f4249">92.10</text>
<text x="1239.3" y="509.0" font-size="8.1" textLength="18.8" lengthAdjust="spacingAndGlyphs" fill="#3f4249">91.50</text>
<text x="1239.3" y="534.0" font-size="8.1" textLength="18.8" lengthAdjust="spacingAndGlyphs" fill="#3f4249">90.90</text>
<text x="1239.3" y="554.9" font-size="8.1" textLength="18.8" lengthAdjust="spacingAndGlyphs" fill="#3f4249">90.40</text>
<text x="1239.3" y="575.9" font-size="8.1" textLength="18.8" lengthAdjust="spacingAndGlyphs" fill="#3f4249">89.90</text>
<text x="1239.3" y="597.1" font-size="8.1" textLength="18.8" lengthAdjust="spacingAndGlyphs" fill="#3f4249">89.40</text>
<text x="1239.3" y="618.3" font-size="8.1" textLength="18.8" lengthAdjust="spacingAndGlyphs" fill="#3f4249">88.90</text>
<text x="1239.3" y="639.7" font-size="8.1" textLength="18.8" lengthAdjust="spacingAndGlyphs" fill="#3f4249">88.40</text>
<rect x="1232.1" y="260.2" width="29.7" height="10.3" rx="1" fill="#5427c2"/>
<text x="1238.9" y="268.2" font-size="7.5" font-weight="bold" fill="#fff">97.52</text>
<rect x="1232.1" y="296.2" width="29.7" height="19.5" rx="1" fill="#000"/>
<text x="1238.9" y="304.0" font-size="7.5" font-weight="bold" fill="#fff">96.60</text>
<text x="1238.9" y="313.0" font-size="7.5" font-weight="bold" fill="#c8c8c8">51:58</text>
<rect x="1232.1" y="350.1" width="29.7" height="10.5" rx="1" fill="#000"/>
<text x="1238.9" y="358.2" font-size="7.5" font-weight="bold" fill="#fff">95.23</text>
<rect x="1232.1" y="368.8" width="29.7" height="10.2" rx="1" fill="#000"/>
<text x="1238.9" y="376.8" font-size="7.5" font-weight="bold" fill="#fff">94.77</text>
<rect x="1232.2" y="640" width="37.8" height="10.3" rx="1" fill="#9b28b4"/>
<text x="1238" y="648" font-size="7.5" font-weight="bold" fill="#fff">17.604K</text>
<text x="15.90" y="662.2" font-size="8.1" textLength="18.1" lengthAdjust="spacingAndGlyphs" fill="#3f4249">12:00</text><text x="79.7" y="662.2" font-size="8.1" text-anchor="middle" fill="#3f4249">3</text><text x="125.40" y="662.2" font-size="8.1" textLength="18.1" lengthAdjust="spacingAndGlyphs" fill="#3f4249">12:00</text><text x="189.2" y="662.2" font-size="8.1" text-anchor="middle" fill="#3f4249">4</text><text x="234.90" y="662.2" font-size="8.1" textLength="18.1" lengthAdjust="spacingAndGlyphs" fill="#3f4249">12:00</text><text x="298.7" y="662.2" font-size="8.1" text-anchor="middle" fill="#3f4249">5</text><text x="344.40" y="662.2" font-size="8.1" textLength="18.1" lengthAdjust="spacingAndGlyphs" fill="#3f4249">12:00</text><text x="408.2" y="662.2" font-size="8.1" text-anchor="middle" fill="#3f4249">6</text><text x="453.90" y="662.2" font-size="8.1" textLength="18.1" lengthAdjust="spacingAndGlyphs" fill="#3f4249">12:00</text><text x="517.7" y="662.2" font-size="8.1" text-anchor="middle" fill="#3f4249">7</text><text x="563.40" y="662.2" font-size="8.1" textLength="18.1" lengthAdjust="spacingAndGlyphs" fill="#3f4249">12:00</text><text x="627.2" y="662.2" font-size="8.1" text-anchor="middle" fill="#3f4249">8</text><text x="672.90" y="662.2" font-size="8.1" textLength="18.1" lengthAdjust="spacingAndGlyphs" fill="#3f4249">12:00</text><text x="736.7" y="662.2" font-size="8.1" text-anchor="middle" fill="#3f4249">9</text><text x="782.40" y="662.2" font-size="8.1" textLength="18.1" lengthAdjust="spacingAndGlyphs" fill="#3f4249">12:00</text><text x="846.2" y="662.2" font-size="8.1" text-anchor="middle" fill="#3f4249">10</text><text x="891.90" y="662.2" font-size="8.1" textLength="18.1" lengthAdjust="spacingAndGlyphs" fill="#3f4249">12:00</text><text x="955.7" y="662.2" font-size="8.1" text-anchor="middle" fill="#3f4249">11</text><text x="1001.40" y="662.2" font-size="8.1" textLength="18.1" lengthAdjust="spacingAndGlyphs" fill="#3f4249">12:00</text><text x="1065.2" y="662.2" font-size="8.1" text-anchor="middle" fill="#3f4249">12</text><text x="1110.90" y="662.2" font-size="8.1" textLength="18.1" lengthAdjust="spacingAndGlyphs" fill="#3f4249">12:00</text><text x="1174.7" y="662.2" font-size="8.1" text-anchor="middle" fill="#3f4249">13</text>
<svg x="1200" y="650" width="31" height="18" overflow="hidden"><text x="20.40" y="12.2" font-size="8.1" textLength="18.1" lengthAdjust="spacingAndGlyphs" fill="#3f4249">12:00</text></svg>
<g fill="#131722"><path d="M6.3 676.4H10.9V682.6H9.0V678.9H6.3Z"/><circle cx="12.7" cy="677.7" r="1.25"/><path d="M15.0 676.4H18.6L16.2 682.6H13.4Z"/></g>
<text x="21.8" y="682.4" font-size="7.9" textLength="44.3" lengthAdjust="spacingAndGlyphs" fill="#4a4d55">TradingView</text>
</svg></body></html>
